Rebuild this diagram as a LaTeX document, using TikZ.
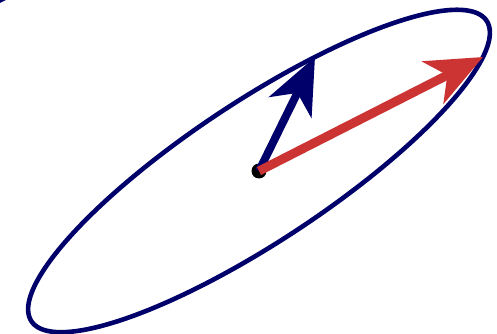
\documentclass[tikz,border=0pt]{standalone}
\usetikzlibrary{arrows.meta}
\definecolor{navy}{HTML}{00006B}
\definecolor{vred}{HTML}{CC3333}
\begin{document}
\begin{tikzpicture}[x=1pt,y=1pt,
  vec/.style={line width=#1, -{Stealth[length=56pt,width=47pt,inset=16pt]}},
  ell/.style={draw=navy, line width=4.6pt}]
\useasboundingbox (0,0) rectangle (497,334);
\coordinate (c) at (259,163);
\coordinate (r) at (483,277);
\coordinate (b) at (315,277);
\fill[navy] (0,334) -- (6,334) -- (0,331) -- cycle;
\draw[ell] plot[domain=0:360, samples=240, smooth cycle]
  ({259+224*cos(\x)+56*sin(\x)}, {163+114*cos(\x)+114*sin(\x)});
\fill[black] (c) circle (7.5);
\draw[vec=8pt, navy] (c) -- (b);
\draw[vec=9pt, vred] (c) -- (r);
\end{tikzpicture}
\end{document}
